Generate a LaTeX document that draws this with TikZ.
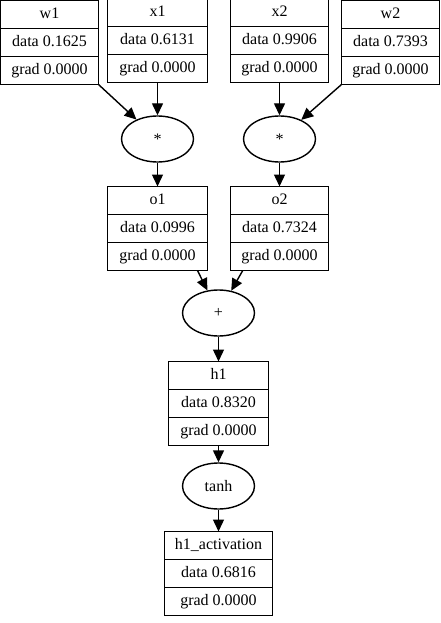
\documentclass[tikz,border=0pt]{standalone}
\usepackage{fontspec}
\setmainfont{Liberation Serif}
\usetikzlibrary{shapes.geometric,arrows.meta,calc}
\newcommand\recnode[7]{%
  \node[cell, minimum width=#4] (#1) at (#2,#3) {#5};
  \node[cell, minimum width=#4] (#1d) at (#1.south) {#6};
  \node[cell, minimum width=#4] (#1g) at (#1d.south) {#7};
  \draw[frame] (#1.north west) rectangle (#1g.south east);
  \draw[frame] (#1d.north west) -- (#1d.north east);
  \draw[frame] (#1g.north west) -- (#1g.north east);
}
\begin{document}
\begin{tikzpicture}[x=1pt,y=-1pt,
  cell/.style={minimum height=28pt, inner sep=0pt, outer sep=0pt, anchor=north,
    text height=11pt, text depth=3pt, font=\fontsize{16}{18}\selectfont},
  frame/.style={line width=1.4pt},
  op/.style={draw, ellipse, line width=1.4pt, minimum width=72pt, minimum height=46pt,
    inner sep=0pt, font=\fontsize{16}{18}\selectfont},
  edge/.style={line width=1.4pt, -{Triangle[length=12pt,width=11pt]}}]
\useasboundingbox (0,0) rectangle (441,623);
\recnode{w1}{49.5}{0.5}{98pt}{w1}{data 0.1625}{grad 0.0000}
\recnode{x1}{157.5}{-1.5}{100pt}{x1}{data 0.6131}{grad 0.0000}
\recnode{x2}{279.5}{-1.5}{98pt}{x2}{data 0.9906}{grad 0.0000}
\recnode{w2}{390.5}{0.5}{98pt}{w2}{data 0.7393}{grad 0.0000}
\node[op] (m1) at (157.5,139) {*};
\node[op] (m2) at (279.5,139) {*};
\recnode{o1}{157.5}{186.5}{100pt}{o1}{data 0.0996}{grad 0.0000}
\recnode{o2}{279.5}{186.5}{98pt}{o2}{data 0.7324}{grad 0.0000}
\node[op] (plus) at (218.5,313) {+};
\recnode{h1}{218.5}{361.5}{100pt}{h1}{data 0.8320}{grad 0.0000}
\node[op] (tanh) at (218.5,486) {tanh};
\recnode{ha}{218.5}{531.5}{108pt}{h1\_activation}{data 0.6816}{grad 0.0000}
\draw[edge] (w1g.south east) -- (m1);
\draw[edge] (x1g.south) -- (m1.north);
\draw[edge] (x2g.south) -- (m2.north);
\draw[edge] (w2g.south west) -- (m2);
\draw[edge] (m1.south) -- (o1.north);
\draw[edge] (m2.south) -- (o2.north);
\draw[edge] ($(o1g.south)!0.8!(o1g.south east)$) -- (plus);
\draw[edge] ($(o2g.south west)!0.25!(o2g.south)$) -- (plus);
\draw[edge] (plus.south) -- (h1.north);
\draw[edge] (h1g.south) -- (tanh.north);
\draw[edge] (tanh.south) -- (ha.north);
\end{tikzpicture}
\end{document}
